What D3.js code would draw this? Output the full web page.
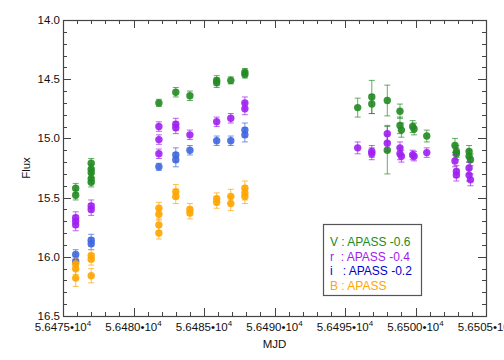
<!DOCTYPE html>
<html><head><meta charset="utf-8">
<script src="https://cdn.jsdelivr.net/npm/d3@7"></script>
<style>body{margin:0;background:#fff}svg{display:block}text{font-family:"Liberation Sans",Arial,Helvetica,sans-serif}</style>
</head><body><svg id="c" width="504" height="360"></svg>
<script>
// ---- data (plotted magnitudes, offsets already applied) ----
const V_mjd = [56475.9,56475.9,56477.0,56477.0,56477.0,56477.0,56477.0,56481.8,56483.0,56484.0,56485.9,56485.9,56486.9,56487.9,56487.9,56495.9,56496.9,56496.9,56498.0,56498.0,56498.9,56498.9,56499.0,56499.8,56499.9,56500.8,56502.8,56502.9,56502.9,56503.8,56503.8,56503.9];
const V_mag = [15.42,15.48,15.21,15.26,15.29,15.34,15.37,14.70,14.61,14.64,14.51,14.53,14.51,14.44,14.46,14.74,14.65,14.71,14.68,15.10,14.77,14.89,14.93,14.90,14.92,14.98,15.06,15.11,15.13,15.11,15.15,15.18];
const V_err = [0.04,0.04,0.04,0.04,0.04,0.04,0.04,0.03,0.04,0.04,0.04,0.04,0.03,0.03,0.03,0.08,0.14,0.08,0.13,0.20,0.06,0.07,0.06,0.05,0.05,0.05,0.06,0.05,0.05,0.05,0.05,0.05];

const r_mjd = [56475.9,56475.9,56475.9,56477.0,56477.0,56481.8,56481.8,56481.8,56483.0,56483.0,56484.0,56485.9,56486.9,56487.9,56487.9,56495.9,56496.9,56496.9,56498.0,56498.0,56498.9,56498.9,56499.0,56499.8,56499.9,56500.8,56502.8,56502.9,56502.9,56503.8,56503.8,56503.9];
const r_mag = [15.67,15.70,15.73,15.57,15.60,14.90,15.01,15.13,14.88,14.91,14.97,14.86,14.83,14.70,14.75,15.08,15.11,15.13,14.96,15.04,15.08,15.13,15.15,15.14,15.15,15.12,15.19,15.28,15.31,15.25,15.31,15.35];
const r_err = [0.05,0.05,0.05,0.05,0.05,0.04,0.04,0.04,0.05,0.05,0.04,0.04,0.04,0.05,0.05,0.05,0.05,0.05,0.07,0.07,0.05,0.05,0.05,0.04,0.04,0.04,0.05,0.05,0.05,0.05,0.05,0.05];

const i_mjd = [56475.9,56475.9,56477.0,56477.0,56481.8,56483.0,56483.0,56484.0,56485.9,56486.9,56487.9,56487.9];
const i_mag = [15.98,16.04,15.86,15.89,15.24,15.14,15.18,15.10,15.02,15.02,14.93,14.97];
const i_err = [0.04,0.04,0.05,0.05,0.03,0.06,0.06,0.04,0.04,0.04,0.06,0.06];

const B_mjd = [56475.9,56475.9,56475.9,56477.0,56477.0,56477.0,56481.8,56481.8,56481.8,56481.8,56483.0,56483.0,56484.0,56484.0,56485.9,56485.9,56486.9,56486.9,56487.9,56487.9,56487.9];
const B_mag = [16.06,16.10,16.18,15.99,16.02,16.16,15.59,15.64,15.73,15.80,15.45,15.49,15.60,15.63,15.51,15.54,15.49,15.55,15.42,15.46,15.49];
const B_err = [0.05,0.05,0.07,0.05,0.05,0.06,0.05,0.05,0.05,0.05,0.06,0.06,0.05,0.05,0.05,0.05,0.06,0.06,0.06,0.06,0.06];

const xDomain = [56475, 56505];
const yDomain = [14.0, 16.5];
const xTickVals = [56475, 56480, 56485, 56490, 56495, 56500, 56505];
const xTickLabels = ["5.6475","5.6480","5.6485","5.6490","5.6495","5.6500","5.6505"];
const yTickVals = [14.0, 14.5, 15.0, 15.5, 16.0, 16.5];
const yTickLabels = ["14.0","14.5","15.0","15.5","16.0","16.5"];
const legendLabels = ["V : APASS -0.6", "r  : APASS -0.4", "i   : APASS -0.2", "B : APASS"];

const series = [
  {mjd:V_mjd, mag:V_mag, err:V_err, color:"#228b22"},
  {mjd:r_mjd, mag:r_mag, err:r_err, color:"#a020f0"},
  {mjd:i_mjd, mag:i_mag, err:i_err, color:"#3f67de"},
  {mjd:B_mjd, mag:B_mag, err:B_err, color:"#ffa500"}
];
const legendColors = ["#228b22","#a020f0","#0000cd","#ffa500"];

// ---- layout ----
const L=63, R=486, T=20, B=316;
const svg = d3.select("#c");
const x = d3.scaleLinear().domain(xDomain).range([L,R]);
const y = d3.scaleLinear().domain(yDomain).range([T,B]);

const axisColor = "#444";
const g = svg.append("g");
const xMinor = d3.range(xDomain[0], xDomain[1]+0.001, 1);
const yMinor = d3.range(0, 26).map(k => +(yDomain[0] + k*0.1).toFixed(2));
function tick(x1,y1,x2,y2){ g.append("line").attr("x1",x1).attr("y1",y1).attr("x2",x2).attr("y2",y2).attr("stroke",axisColor).attr("stroke-width",1); }
xMinor.forEach(v=>{
  const major = xTickVals.includes(v);
  const len = major ? 8 : 4;
  const px = Math.round(x(v))+0.5;
  tick(px,B,px,B-len); tick(px,T,px,T+len);
});
yMinor.forEach(v=>{
  const major = yTickVals.some(t=>Math.abs(t-v)<1e-6);
  const len = major ? 8 : 4;
  const py = Math.round(y(v))+0.5;
  tick(L,py,L+len,py); tick(R,py,R-len,py);
});
g.append("rect").attr("x",L+0.5).attr("y",T+0.5).attr("width",R-L).attr("height",B-T)
  .attr("fill","none").attr("stroke",axisColor).attr("stroke-width",1.2);

yTickVals.forEach((v,k)=>{
  svg.append("text").attr("x",L-3).attr("y",y(v)+4).attr("text-anchor","end")
    .attr("font-size",11.5).attr("fill","#111").text(yTickLabels[k]);
});
xTickVals.forEach((v,k)=>{
  const t = svg.append("text").attr("x",x(v)).attr("y",B+15).attr("text-anchor","middle")
    .attr("font-size",11.5).attr("fill","#111");
  t.append("tspan").text(xTickLabels[k] + "\u2022" + "10");
  t.append("tspan").attr("dy",-5).attr("font-size",8).text("4");
});
svg.append("text").attr("x",(L+R)/2).attr("y",348).attr("text-anchor","middle")
  .attr("font-size",11.5).attr("fill","#111").text("MJD");
svg.append("text").attr("transform",`translate(30,${(T+B)/2}) rotate(-90)`).attr("text-anchor","middle")
  .attr("font-size",11.5).attr("fill","#111").text("Flux");

const plot = svg.append("g");
series.forEach(s=>{
  const pts = s.mjd.map((m,k)=>({m, v:s.mag[k], e:s.err[k]}));
  const eb = plot.append("g").attr("stroke",s.color).attr("stroke-opacity",0.7).attr("stroke-width",1);
  pts.forEach(p=>{
    const cx = x(p.m);
    eb.append("line").attr("x1",cx).attr("x2",cx).attr("y1",y(p.v-p.e)).attr("y2",y(p.v+p.e));
    eb.append("line").attr("x1",cx-3).attr("x2",cx+3).attr("y1",y(p.v-p.e)).attr("y2",y(p.v-p.e));
    eb.append("line").attr("x1",cx-3).attr("x2",cx+3).attr("y1",y(p.v+p.e)).attr("y2",y(p.v+p.e));
  });
  plot.append("g").selectAll("circle").data(pts).join("circle")
    .attr("cx",p=>x(p.m)).attr("cy",p=>y(p.v)).attr("r",3.7)
    .attr("fill",s.color).attr("fill-opacity",0.9);
});

const lg = svg.append("g");
lg.append("rect").attr("x",323.5).attr("y",224.5).attr("width",98).attr("height",71)
  .attr("fill","#fff").attr("stroke","#555").attr("stroke-width",1.2);
legendLabels.forEach((t,k)=>{
  lg.append("text").attr("x",330).attr("y",246+k*14.5).attr("font-size",12)
    .attr("fill",legendColors[k]).attr("xml:space","preserve").style("white-space","pre").text(t);
});
</script></body></html>
